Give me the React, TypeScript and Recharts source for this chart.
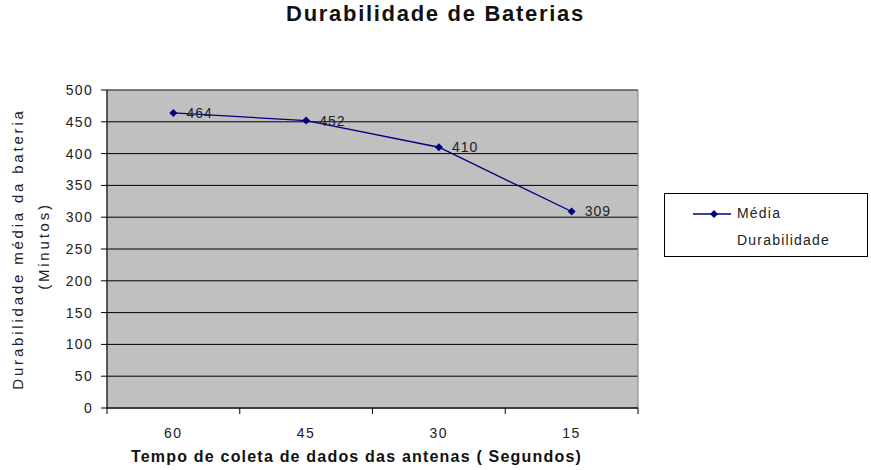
import { LineChart, Line, XAxis, YAxis, CartesianGrid, LabelList, ReferenceArea } from "recharts";

const categories = ["60", "45", "30", "15"];
const mediaDurabilidade = [464, 452, 410, 309];
const yTicks = [0, 50, 100, 150, 200, 250, 300, 350, 400, 450, 500];

const data = categories.map((tempo, i) => ({ tempo, media: mediaDurabilidade[i] }));

const FONT = "'Liberation Sans', Arial, sans-serif";
const NAVY = "#000080";

function Diamond(props: any) {
  const { cx, cy } = props;
  if (cx == null || cy == null) return null;
  const s = 4;
  return <polygon points={`${cx},${cy - s} ${cx + s},${cy} ${cx},${cy + s} ${cx - s},${cy}`} fill={NAVY} />;
}

function XTick(props: any) {
  const { x, y, payload, index, width, visibleTicksCount } = props;
  const band = width / visibleTicksCount;
  return (
    <g>
      <line x1={x - band / 2} y1={y} x2={x - band / 2} y2={y + 6} stroke="#000" />
      {index === visibleTicksCount - 1 && <line x1={x + band / 2} y1={y} x2={x + band / 2} y2={y + 6} stroke="#000" />}
      <text x={x} y={y + 30} textAnchor="middle" fontSize={14} fontFamily={FONT} fill="#222" letterSpacing={1.5}>
        {payload.value}
      </text>
    </g>
  );
}

function YTitle(props: any) {
  const { viewBox } = props;
  const cy = viewBox.y + viewBox.height / 2;
  return (
    <g fontFamily={FONT} fontSize={15} fill="#222" letterSpacing={2.8}>
      <text x={18} y={cy + 5} textAnchor="middle" transform={`rotate(-90 18 ${cy})`}>Durabilidade média da bateria</text>
      <text x={44} y={cy + 2} textAnchor="middle" transform={`rotate(-90 44 ${cy - 3})`}>(Minutos)</text>
    </g>
  );
}

function ValueLabel(props: any) {
  const { x, y, value } = props;
  return (
    <text x={x + 13} y={y + 5} fontSize={14} fontFamily={FONT} fill="#222" letterSpacing={1}>
      {value}
    </text>
  );
}

export default function App() {
  return (
    <div style={{ position: "absolute", left: 0, top: 0, width: 871, height: 470, background: "#fff", fontFamily: FONT }}>
      <div style={{ position: "absolute", left: 0, width: 871, top: 1, textAlign: "center", fontWeight: "bold", fontSize: 22, letterSpacing: 1.7, color: "#111" }}>
        Durabilidade de Baterias
      </div>
      <LineChart width={871} height={470} data={data} margin={{ top: 90, right: 233, left: 57, bottom: 0 }} style={{ position: "absolute", left: 0, top: 0 }}>
        <CartesianGrid vertical={false} fill="#c0c0c0" stroke="#000" strokeOpacity={1} />
        <ReferenceArea y1={0} y2={500} fill="none" stroke="#808080" strokeWidth={1} />
        <XAxis
          dataKey="tempo"
          scale="band"
          height={62}
          axisLine={{ stroke: "#000" }}
          tickLine={false}
          tickSize={0}
          tickMargin={0}
          tick={<XTick />}
          interval={0}
          label={{ value: "Tempo de coleta de dados das antenas ( Segundos)", position: "insideBottom", offset: 8, dx: -16, fontSize: 16, fontWeight: "bold", fontFamily: FONT, fill: "#111", letterSpacing: 1.2 }}
        />
        <YAxis
          width={50}
          domain={[0, 500]}
          ticks={yTicks}
          interval={0}
          axisLine={{ stroke: "#000" }}
          tickLine={{ stroke: "#000" }}
          tickSize={6}
          tickMargin={8}
          tick={{ fontSize: 14, fontFamily: FONT, fill: "#222", letterSpacing: 1.3 }}
          label={<YTitle />}
        />
        <Line type="linear" dataKey="media" stroke={NAVY} strokeWidth={1.3} dot={<Diamond />} activeDot={false} isAnimationActive={false}>
          <LabelList dataKey="media" content={<ValueLabel />} />
        </Line>
      </LineChart>
      <div style={{ position: "absolute", left: 664, top: 193, width: 204, height: 64, border: "1px solid #000", boxSizing: "border-box", background: "#fff" }}>
        <svg width={40} height={12} style={{ position: "absolute", left: 28, top: 14 }}>
          <line x1={0} y1={6} x2={38} y2={6} stroke={NAVY} strokeWidth={1.3} />
          <polygon points="21,2 25,6 21,10 17,6" fill={NAVY} />
        </svg>
        <div style={{ position: "absolute", left: 72, top: 6, fontSize: 14, lineHeight: "27px", color: "#222", letterSpacing: 1.2 }}>
          Média
          <br />
          Durabilidade
        </div>
      </div>
    </div>
  );
}
